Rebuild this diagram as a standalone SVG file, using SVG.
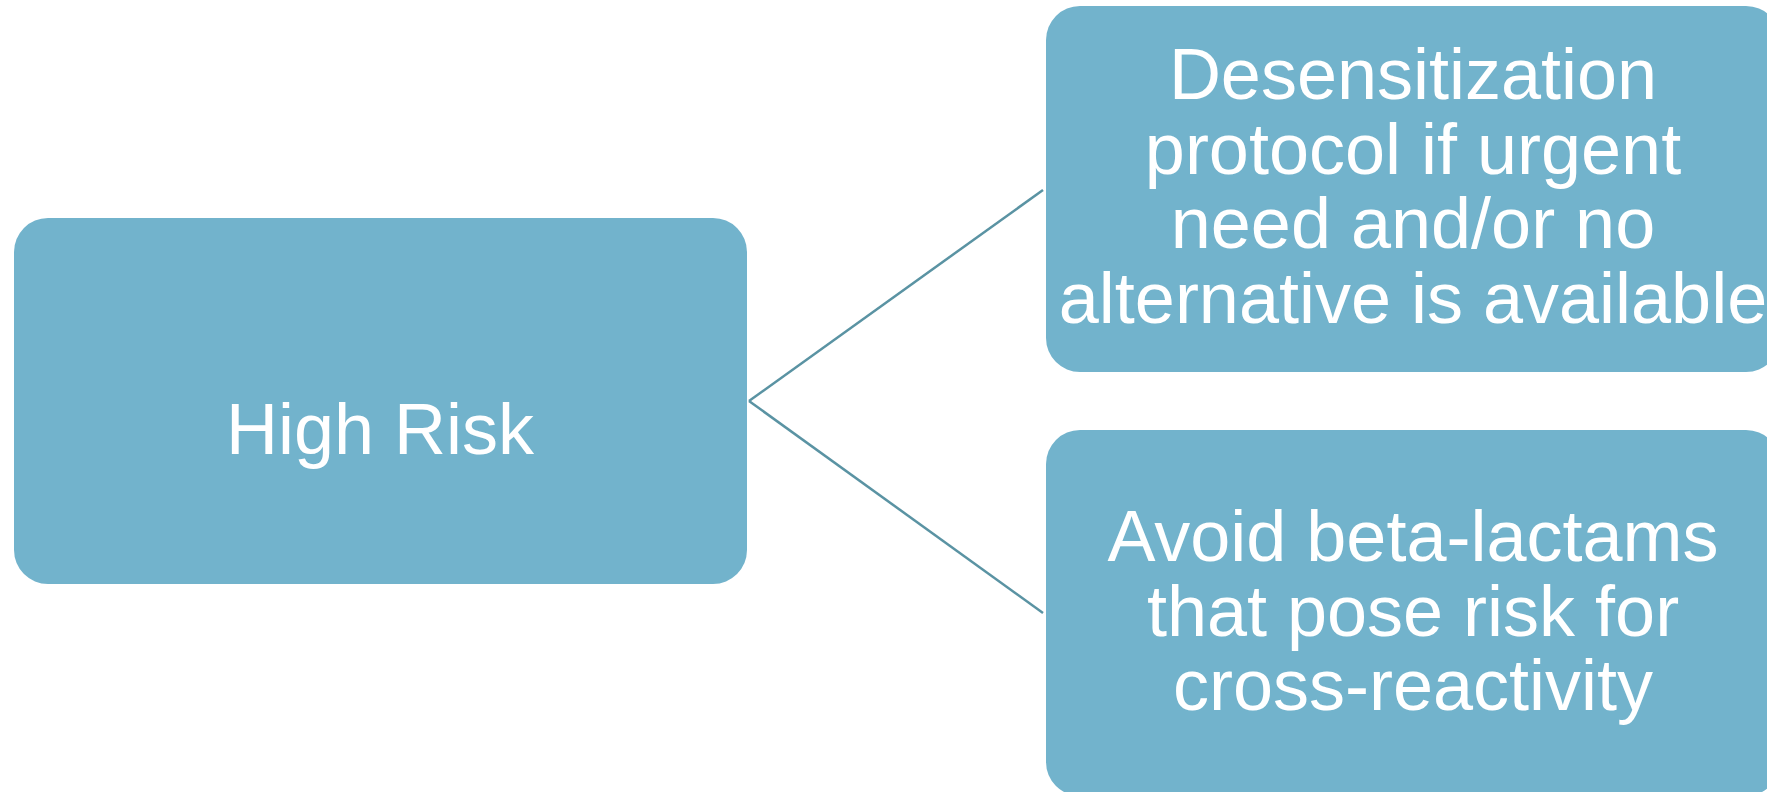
<svg xmlns="http://www.w3.org/2000/svg" width="1767" height="792" viewBox="0 0 1767 792">
<style>
.box{fill:#72b3cc;}
.t{font-family:"Liberation Sans",Arial,sans-serif;font-size:72px;fill:#ffffff;text-anchor:middle;}
.c{stroke:#5a93a3;stroke-width:2.5;fill:none;}
</style>
<rect width="1767" height="792" fill="#ffffff"/>
<g id="connectors">
<line class="c" x1="749" y1="401" x2="1043" y2="190"/>
<line class="c" x1="749" y1="401" x2="1043" y2="613"/>
</g>
<g id="high-risk">
<rect class="box" x="14" y="218" width="733" height="366" rx="34" ry="34"/>
<text class="t" x="380" y="454">High Risk</text>
</g>
<g id="desensitization">
<rect class="box" x="1046" y="6" width="734" height="366" rx="34" ry="34"/>
<text class="t" x="1413" y="99">Desensitization</text>
<text class="t" x="1413" y="173.5">protocol if urgent</text>
<text class="t" x="1413" y="248">need and/or no</text>
<text class="t" x="1413" y="323">alternative is available</text>
</g>
<g id="avoid">
<rect class="box" x="1046" y="430" width="734" height="366" rx="34" ry="34"/>
<text class="t" x="1413" y="561">Avoid beta-lactams</text>
<text class="t" x="1413" y="635.5">that pose risk for</text>
<text class="t" x="1413" y="710">cross-reactivity</text>
</g>
</svg>
